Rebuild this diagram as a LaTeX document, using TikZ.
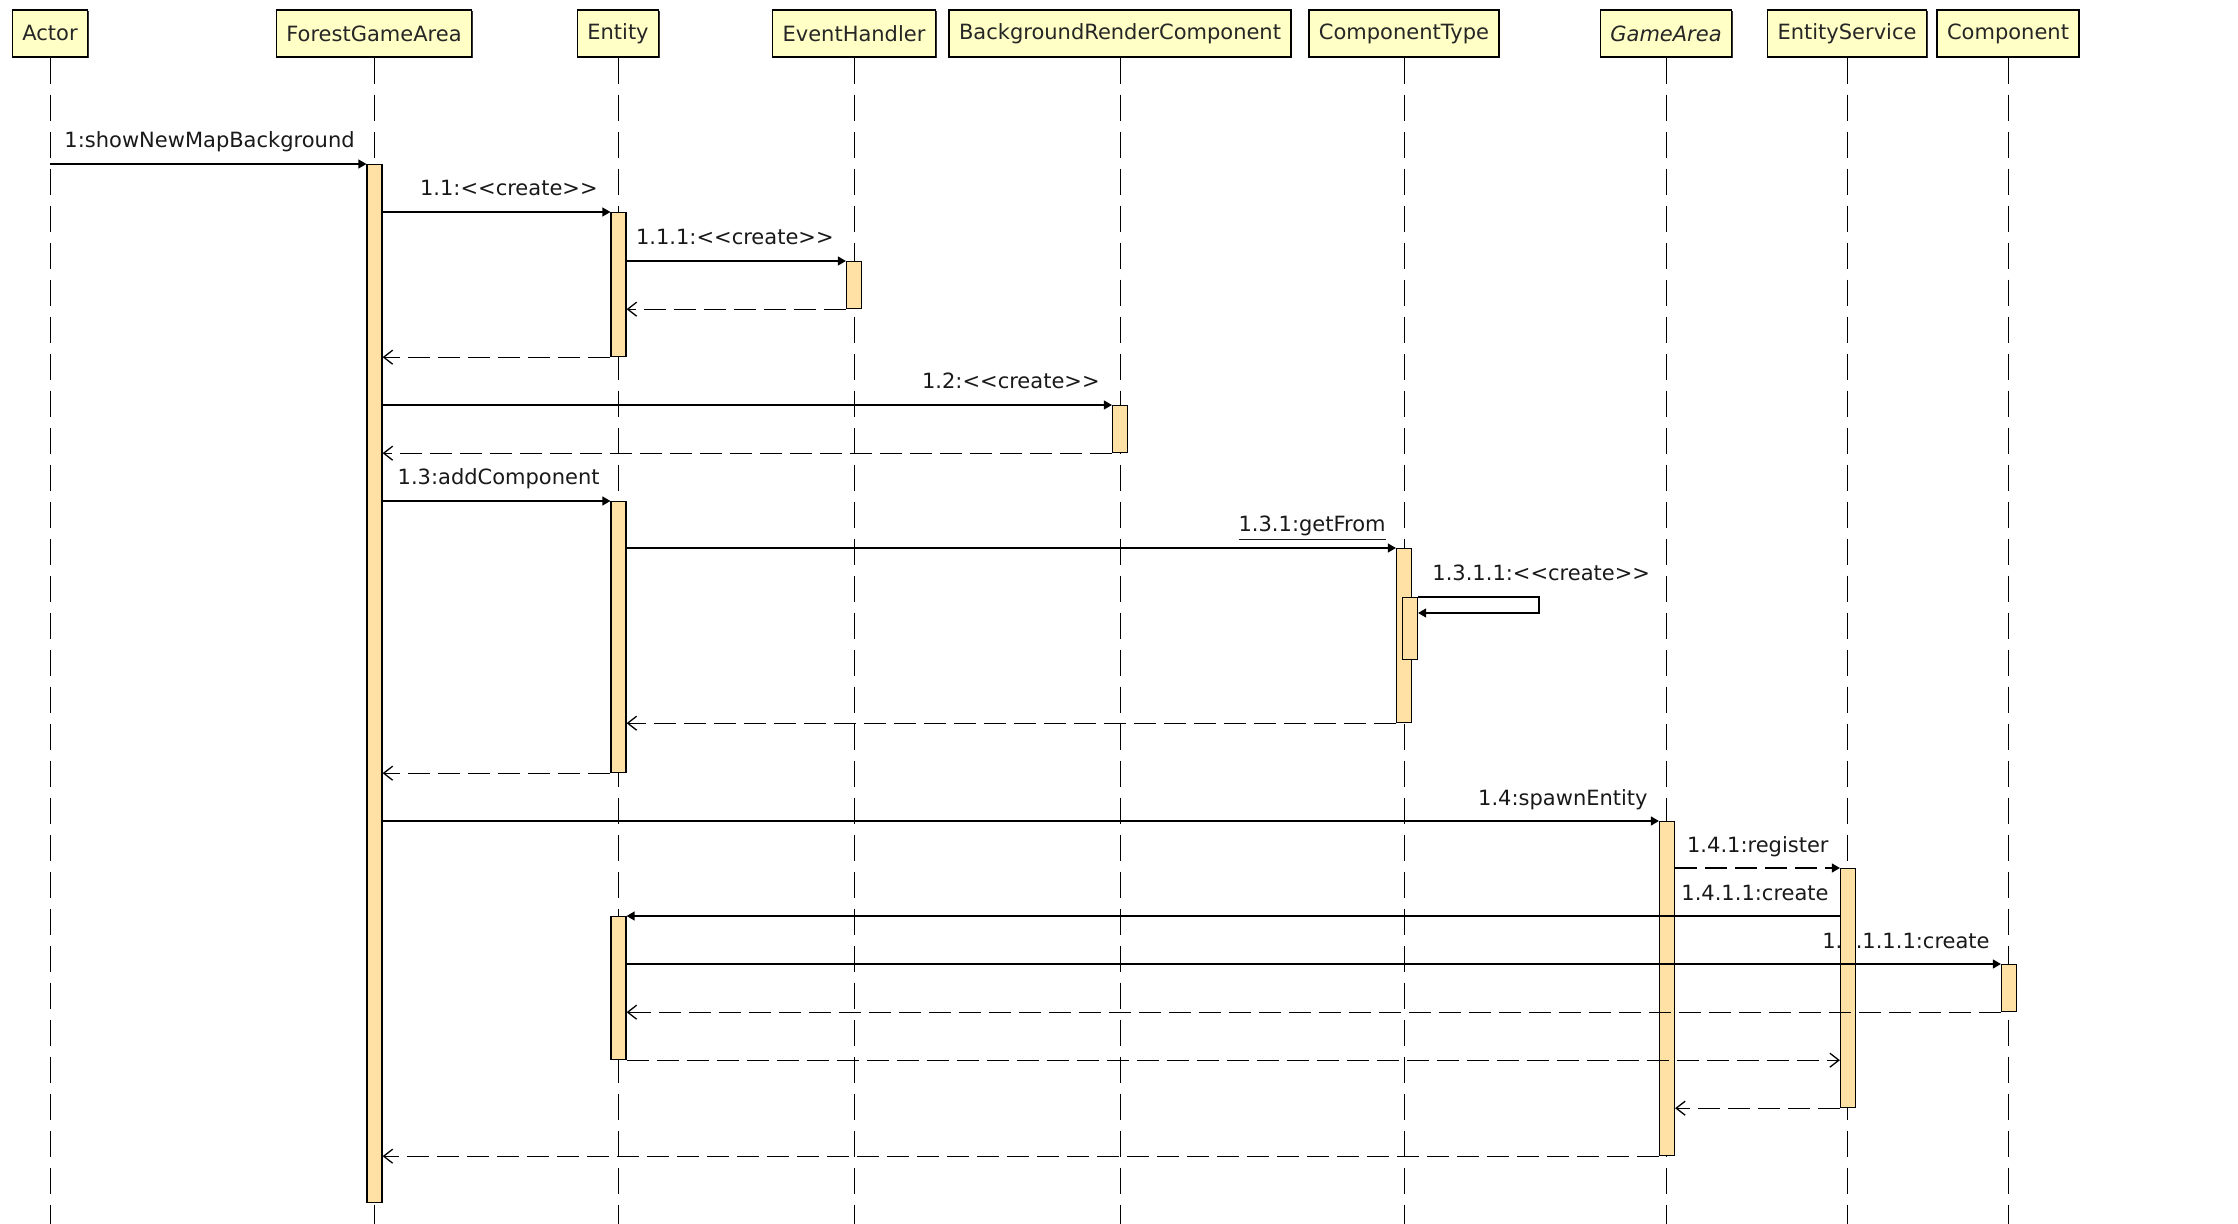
\documentclass[tikz,border=0pt]{standalone}
\usepackage{fontspec}
\setmainfont{DejaVu Sans}
\usepackage{tikz}
\usetikzlibrary{arrows.meta,calc,shadows}

\definecolor{headfill}{RGB}{255,255,198}
\definecolor{barfill}{RGB}{255,224,165}

\newcommand{\stereo}[1]{<\kern0pt<#1>\kern0pt>}

\tikzset{
  head/.style={draw, line width=0.65pt, fill=headfill, text=black!85,
    minimum height=23.5pt, inner xsep=5pt, inner ysep=0pt,
    font=\fontsize{10.5}{12}\selectfont,
    drop shadow={shadow xshift=0.6pt, shadow yshift=-0.6pt, fill=black!80, opacity=1}},
  lifeline/.style={line width=0.5pt, dash pattern=on 13pt off 5.5pt},
  bar/.style={draw, line width=0.6pt, fill=barfill, minimum width=7.5pt,
    inner sep=0pt, anchor=north},
  call/.style={line width=0.65pt, -{Triangle[length=4pt,width=4.5pt]}},
  reply/.style={line width=0.65pt, dash pattern=on 11pt off 4pt,
    -{Straight Barb[length=4.5pt,width=7pt]}},
  msg/.style={anchor=base east, inner sep=0pt, text=black!90,
    font=\fontsize{10.5}{12}\selectfont},
}

\begin{document}
\begin{tikzpicture}[x=0.5pt, y=-0.5pt]
    \useasboundingbox (0,0) rectangle (2238,1224);
    %% Objects
    \node[head] (actor)     at (50,33.5)   {Actor};
    \node[head] (forest)    at (374,33.5)  {ForestGameArea};
    \node[head] (entity)    at (618,33.5)  {Entity};
    \node[head] (handler)   at (854,33.5)  {EventHandler};
    \node[head] (bgrender)  at (1120,33.5) {BackgroundRenderComponent};
    \node[head] (comptype)  at (1404,33.5) {ComponentType};
    \node[head] (gamearea)  at (1666,33.5) {\itshape GameArea};
    \node[head] (entservice) at (1847,33.5) {EntityService};
    \node[head] (component) at (2008,33.5) {Component};
    \foreach \n in {actor,forest,entity,handler,bgrender,comptype,gamearea,entservice,component}
        \draw[lifeline] (\n.south) -- (\n.south |- 0,1224);

    %% Message labels
    \node[msg] (m1)     at (355,148)  {1:showNewMapBackground};
    \node[msg] (m11)    at (598,196)  {1.1:\stereo{create}};
    \node[msg] (m111)   at (834,245)  {1.1.1:\stereo{create}};
    \node[msg] (m12)    at (1100,389) {1.2:\stereo{create}};
    \node[msg] (m13)    at (600,485)  {1.3:addComponent};
    \node[msg] (m131)   at (1386,532) {\underline{1.3.1:getFrom}};
    \node[msg, anchor=base west] (m1311) at (1432,581) {1.3.1.1:\stereo{create}};
    \node[msg] (m14)    at (1648,805) {1.4:spawnEntity};
    \node[msg] (m141)   at (1829,852) {1.4.1:register};
    \node[msg] (m1411)  at (1829,900) {1.4.1.1:create};
    \node[msg] (m14111) at (1990,948) {1.4.1.1.1:create};

    %% Activations
    \node[bar, minimum height=519pt]   (fgaBar)  at (374.5,164) {};
    \node[bar, minimum height=72pt]    (entBarA) at (618.5,212) {};
    \node[bar, minimum height=23.5pt]  (ehBar)   at (854,261)   {};
    \node[bar, minimum height=23.5pt]  (brcBar)  at (1120,405)  {};
    \node[bar, minimum height=135.5pt] (entBarB) at (618.5,501) {};
    \node[bar, minimum height=87pt]    (ctBar)   at (1404,548)  {};
    \node[bar, minimum height=31pt]    (ctSub)   at (1410,597)  {};
    \node[bar, minimum height=167pt]   (gaBar)   at (1667,821)  {};
    \node[bar, minimum height=119.5pt] (esBar)   at (1848,868)  {};
    \node[bar, minimum height=71.5pt]  (entBarC) at (618.5,916) {};
    \node[bar, minimum height=23.5pt]  (compBar) at (2009,964)  {};

    %% Calls and replies
    \draw[call]  (actor.south |- fgaBar.north) -- (fgaBar.north west);
    \draw[call]  (fgaBar.east |- entBarA.north) -- (entBarA.north west);
    \draw[call]  (entBarA.east |- ehBar.north) -- (ehBar.north west);
    \draw[reply] (ehBar.south west) -- (entBarA.east |- ehBar.south);
    \draw[reply] (entBarA.south west) -- (fgaBar.east |- entBarA.south);
    \draw[call]  (fgaBar.east |- brcBar.north) -- (brcBar.north west);
    \draw[reply] (brcBar.south west) -- (fgaBar.east |- brcBar.south);
    \draw[call]  (fgaBar.east |- entBarB.north) -- (entBarB.north west);
    \draw[call]  (entBarB.east |- ctBar.north) -- (ctBar.north west);
    \coordinate (loopEnd) at (1539,613);
    \draw[call]  (ctSub.north east) -| (loopEnd) -- (ctSub.east |- loopEnd);
    \draw[reply] (ctBar.south west) -- (entBarB.east |- ctBar.south);
    \draw[reply] (entBarB.south west) -- (fgaBar.east |- entBarB.south);
    \draw[call]  (fgaBar.east |- gaBar.north) -- (gaBar.north west);
    \draw[call, dash pattern=on 11pt off 4pt] (gaBar.east |- esBar.north) -- (esBar.north west);
    \draw[call]  (esBar.west |- entBarC.north) -- (entBarC.north east);
    \draw[call]  (entBarC.east |- compBar.north) -- (compBar.north west);
    \draw[reply] (compBar.south west) -- (entBarC.east |- compBar.south);
    \draw[reply] (entBarC.south east) -- (esBar.west |- entBarC.south);
    \draw[reply] (esBar.south west) -- (gaBar.east |- esBar.south);
    \draw[reply] (gaBar.south west) -- (fgaBar.east |- gaBar.south);

\end{tikzpicture}
\end{document}
